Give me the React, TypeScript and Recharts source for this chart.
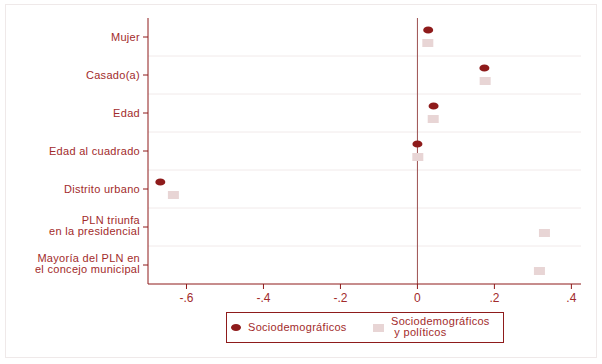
import React from "react";
import {
  ScatterChart,
  Scatter,
  XAxis,
  YAxis,
  CartesianGrid,
  ReferenceLine,
} from "recharts";

const categories = [
  "Mujer",
  "Casado(a)",
  "Edad",
  "Edad al cuadrado",
  "Distrito urbano",
  "PLN triunfa\nen la presidencial",
  "Mayoría del PLN en\nel concejo municipal",
];
const socioValues: (number | null)[] = [0.028, 0.174, 0.042, 0.0, -0.668, null, null];
const politicoValues: (number | null)[] = [0.027, 0.176, 0.041, 0.001, -0.634, 0.33, 0.317];
const xTicks = [-0.6, -0.4, -0.2, 0, 0.2, 0.4];
const xTickLabels = ["-.6", "-.4", "-.2", "0", ".2", ".4"];
const seriesNames = ["Sociodemográficos", "Sociodemográficos\n y políticos"];

const RED = "#8e1b1b";
const TEXT = "#a22b2b";
const PINK = "#e8d5d5";
const FONT = "'Liberation Sans', Arial, sans-serif";

const toRows = (vals: (number | null)[]) =>
  categories
    .map((cat, i) => ({ cat, x: vals[i] }))
    .filter((d) => d.x !== null);

const socioData = toRows(socioValues);
const politicoData = toRows(politicoValues);

const Dot = (props: any) => (
  <ellipse cx={props.cx} cy={props.cy - 7} rx={5} ry={3.6} fill={RED} />
);
const Square = (props: any) => (
  <rect x={props.cx - 5.5} y={props.cy + 2} width={11} height={8} fill={PINK} />
);

const YTick = (props: any) => {
  const lines = String(props.payload.value).split("\n");
  const first = lines.length > 1 ? -3 : 4;
  return (
    <text
      x={props.x}
      y={props.y}
      textAnchor="end"
      fill={TEXT}
      fontSize={11}
      fontFamily={FONT}
      letterSpacing={0.3}
    >
      {lines.map((l, i) => (
        <tspan key={i} x={props.x} dy={i === 0 ? first : 10.5}>
          {l}
        </tspan>
      ))}
    </text>
  );
};

export default function App() {
  return (
    <div
      style={{
        position: "absolute",
        left: 0,
        top: 0,
        width: 602,
        height: 364,
        background: "#fff",
        fontFamily: FONT,
      }}
    >
      <div
        style={{
          position: "absolute",
          left: 5,
          top: 4,
          width: 590,
          height: 352,
          border: "1px solid #efe9e9",
        }}
      />
      <ScatterChart
        width={602}
        height={364}
        margin={{ top: 18, right: 21, bottom: 50, left: 0 }}
        style={{ position: "absolute", left: 0, top: 0 }}
      >
        <CartesianGrid
          vertical={false}
          stroke="#f1eaea"
          horizontalCoordinatesGenerator={({ offset }: any) =>
            categories
              .slice(1)
              .map((_, i) => offset.top + ((i + 1) * offset.height) / categories.length)
          }
        />
        <XAxis
          type="number"
          dataKey="x"
          domain={[-0.7, 0.425]}
          ticks={xTicks}
          tickFormatter={(v: number) => xTickLabels[xTicks.indexOf(v)] ?? String(v)}
          allowDataOverflow
          height={30}
          stroke={RED}
          tickSize={5}
          tickMargin={4}
          tick={{ fill: TEXT, fontSize: 12, fontFamily: FONT }}
        />
        <YAxis
          type="category"
          dataKey="cat"
          allowDuplicatedCategory={false}
          reversed
          width={148}
          stroke={RED}
          tickSize={5}
          tickMargin={3}
          tick={<YTick />}
          interval={0}
        />
        <ReferenceLine x={0} stroke="#9c4f4f" />
        <Scatter
          name={seriesNames[0]}
          data={socioData}
          shape={<Dot />}
          isAnimationActive={false}
        />
        <Scatter
          name={seriesNames[1]}
          data={politicoData}
          shape={<Square />}
          isAnimationActive={false}
        />
      </ScatterChart>
      <div
        style={{
          position: "absolute",
          left: 226,
          top: 312,
          width: 276,
          height: 29,
          border: `1px solid ${RED}`,
          color: TEXT,
          fontSize: 11,
          letterSpacing: 0.3,
        }}
      >
        <span
          style={{
            position: "absolute",
            left: 4,
            top: 11,
            width: 10,
            height: 7,
            borderRadius: "50%",
            background: RED,
          }}
        />
        <span style={{ position: "absolute", left: 21, top: 8 }}>{seriesNames[0]}</span>
        <span
          style={{
            position: "absolute",
            left: 146,
            top: 11,
            width: 11,
            height: 8,
            background: PINK,
          }}
        />
        <span
          style={{
            position: "absolute",
            left: 164,
            top: 3,
            lineHeight: "11px",
            whiteSpace: "pre",
          }}
        >
          {seriesNames[1]}
        </span>
      </div>
    </div>
  );
}
